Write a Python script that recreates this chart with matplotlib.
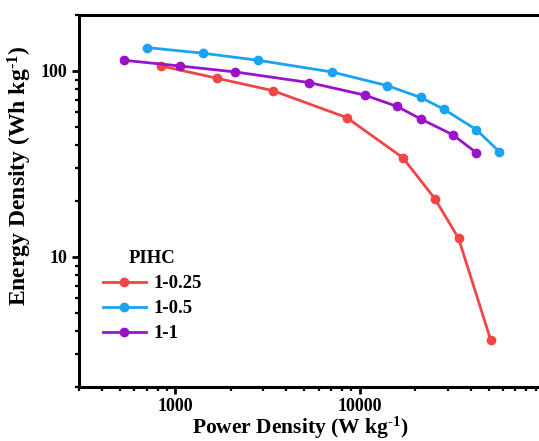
import matplotlib.pyplot as plt
from matplotlib.ticker import LogLocator, NullFormatter, FixedLocator, FixedFormatter

# power density (W/kg) and energy density (Wh/kg) for each PIHC sample
p_025 = [839, 1692, 3383, 8490, 17130, 25560, 34390, 51290]
e_025 = [106.4, 91.3, 78.4, 56.2, 34.2, 20.6, 12.6, 3.6]

p_05 = [701, 1414, 2812, 7063, 14140, 21380, 28530, 42880, 57150]
e_05 = [133.7, 124.6, 114.2, 98.8, 83.4, 72.1, 62.4, 48.4, 36.9]

p_1 = [526, 1055, 2119, 5334, 10650, 15950, 21380, 32000, 42880]
e_1 = [114.2, 106.4, 98.8, 86.6, 74.2, 64.5, 55.3, 45.4, 36.4]

labels = ["1-0.25", "1-0.5", "1-1"]
colors = ["#F24545", "#1BA3F0", "#9A12C9"]

plt.rcParams['font.family'] = ['Liberation Serif', 'DejaVu Serif']
plt.rcParams['font.weight'] = 'bold'
plt.rcParams['mathtext.fontset'] = 'custom'
plt.rcParams['mathtext.rm'] = 'Liberation Serif:bold'
plt.rcParams['mathtext.bf'] = 'Liberation Serif:bold'
plt.rcParams['mathtext.default'] = 'rm'

fig = plt.figure(figsize=(5.39, 4.41), dpi=100)
ax = fig.add_axes([79 / 539, 54 / 441, 465 / 539, 372 / 441])

for px, ey, lab, c in zip([p_025, p_05, p_1], [e_025, e_05, e_1], labels, colors):
    ax.plot(px, ey, '-o', color=c, lw=2, ms=6, label=lab)

ax.set_xscale('log')
ax.set_yscale('log')
ax.set_xlim(300, 1e5)
ax.set_ylim(2, 200)

ax.xaxis.set_major_locator(FixedLocator([1000, 10000]))
ax.xaxis.set_major_formatter(FixedFormatter(['1000', '10000']))
ax.xaxis.set_minor_locator(LogLocator(base=10, subs=range(2, 10)))
ax.xaxis.set_minor_formatter(NullFormatter())
ax.yaxis.set_major_locator(FixedLocator([10, 100]))
ax.yaxis.set_major_formatter(FixedFormatter(['10', '100']))
ax.yaxis.set_minor_locator(LogLocator(base=10, subs=range(2, 10)))
ax.yaxis.set_minor_formatter(NullFormatter())

ax.spines['right'].set_visible(False)
for s in ax.spines.values():
    s.set_linewidth(2.2)
ax.tick_params(which='major', direction='out', length=5, width=2, labelsize=13)
ax.tick_params(axis='x', which='major', pad=3)
ax.tick_params(which='minor', direction='out', length=3, width=1.6)

ax.set_xlabel('Power Density (W kg$^{\\text{-1}}$)', fontsize=15.5, fontweight='bold')
ax.set_ylabel('Energy Density (Wh kg$^{\\text{-1}}$)', fontsize=17, fontweight='bold')
ax.xaxis.set_label_coords(0.475, -0.076, transform=ax.transAxes)
ax.xaxis.label.set_va('top')
ax.yaxis.set_label_coords(-0.097, 0.567, transform=ax.transAxes)

leg = ax.legend(title='PIHC', frameon=False, loc='lower left',
                bbox_to_anchor=(0.015, 0.075), fontsize=13.5, title_fontsize=13.5,
                handlelength=2.3, handletextpad=0.4, labelspacing=0.42)
leg.get_title().set_fontweight('bold')

fig.savefig('out.png', dpi=100)
